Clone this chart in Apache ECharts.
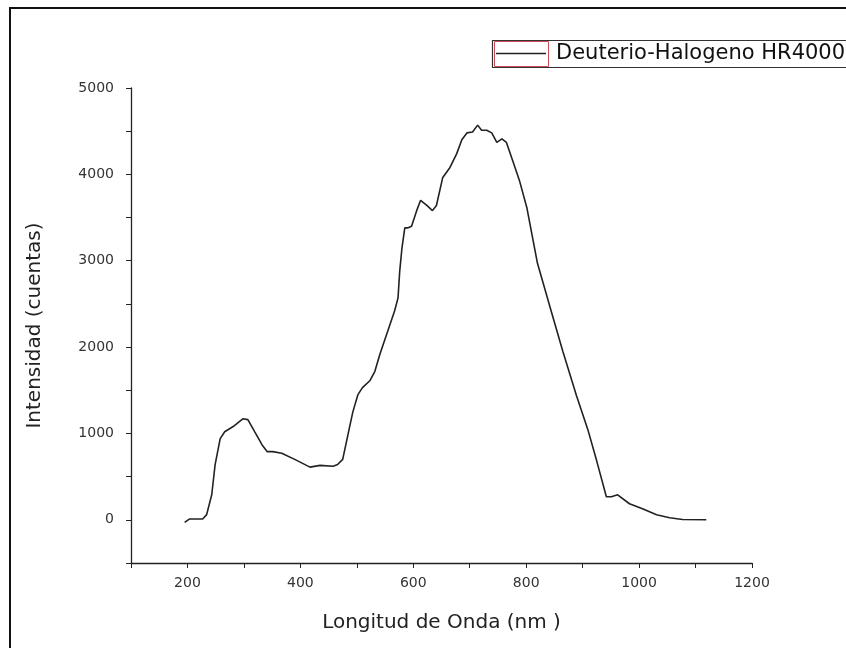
<!DOCTYPE html>
<html>
<head>
<meta charset="utf-8">
<script src="https://cdn.jsdelivr.net/npm/echarts@6/dist/echarts.min.js"></script>
<style>html,body{margin:0;padding:0;background:#fff}#c{width:846px;height:648px}</style>
</head>
<body>
<div id="c"></div>
<script>
const seriesName = 'Deuterio-Halogeno HR4000';
const wavelength = [195,204,227,234,243,249,258,266,281,298,307,319,332,341,351,367,390,417,435,458,466,475,488,493,502,510,523,532,541,555,567,573,576,580,585,590,597,606,613,624,634,641,652,665,677,686,695,705,714,721,730,739,748,757,765,776,788,801,820,845,865,889,909,925,942,951,962,983,1006,1031,1054,1077,1119];
const intensity = [-30,10,10,60,290,640,940,1020,1080,1170,1160,1020,870,790,790,770,700,610,630,620,640,700,1100,1250,1450,1530,1610,1720,1920,2190,2420,2570,2880,3150,3380,3380,3400,3580,3700,3640,3580,3640,3960,4080,4240,4400,4480,4490,4570,4510,4510,4480,4370,4410,4370,4160,3930,3620,2970,2400,1950,1440,1050,680,267,267,290,186,128,58,23,3,0];
const xTickLabels = [200,400,600,800,1000,1200];
const yTickLabels = [0,1000,2000,3000,4000,5000];

const FONT = '"DejaVu Sans", sans-serif';
const chart = echarts.init(document.getElementById('c'), null, {renderer: 'canvas'});
const data = wavelength.map((w, i) => [w, intensity[i]]);

chart.setOption({
  animation: false,
  backgroundColor: '#fff',
  textStyle: {fontFamily: FONT},
  grid: {left: 131, right: 94, top: 88, bottom: 85, containLabel: false},
  legend: {
    show: true,
    data: [seriesName],
    left: 496,
    top: 43,
    icon: 'rect',
    itemWidth: 50,
    itemHeight: 1.5,
    itemGap: 0,
    padding: 0,
    textStyle: {fontFamily: FONT, fontSize: 21, color: '#111', padding: [0, 0, 0, 5]},
    borderWidth: 0
  },
  graphic: [
    {type: 'rect', shape: {x: 10, y: 8, width: 900, height: 700}, style: {fill: 'none', stroke: '#111', lineWidth: 2}, silent: true},
    {type: 'rect', shape: {x: 492.5, y: 40.5, width: 400, height: 27}, style: {fill: 'none', stroke: '#333', lineWidth: 1.2}, silent: true},
    {type: 'rect', shape: {x: 494.5, y: 41.5, width: 54, height: 25}, style: {fill: 'none', stroke: '#d04a5a', lineWidth: 1}, silent: true}
  ],
  xAxis: {
    type: 'value',
    min: 100, max: 1200, interval: 100,
    name: 'Longitud de Onda (nm )',
    nameLocation: 'middle',
    nameGap: 50,
    nameTextStyle: {fontFamily: FONT, fontSize: 20, color: '#222'},
    axisLine: {show: true, onZero: false, lineStyle: {color: '#222', width: 1.3}},
    axisTick: {show: true, inside: false, length: 5, lineStyle: {color: '#222', width: 1}},
    splitLine: {show: false},
    axisLabel: {
      fontFamily: FONT, fontSize: 14, color: '#333', margin: 13,
      formatter: v => xTickLabels.includes(v) ? String(v) : ''
    }
  },
  yAxis: {
    type: 'value',
    min: -500, max: 5000, interval: 500,
    name: 'Intensidad (cuentas)',
    nameLocation: 'middle',
    nameGap: 86,
    nameRotate: 90,
    nameTextStyle: {fontFamily: FONT, fontSize: 20, color: '#222'},
    axisLine: {show: true, onZero: false, lineStyle: {color: '#222', width: 1.3}},
    axisTick: {show: true, inside: false, length: 5, lineStyle: {color: '#222', width: 1}},
    splitLine: {show: false},
    axisLabel: {
      fontFamily: FONT, fontSize: 14, color: '#333', margin: 17,
      formatter: v => yTickLabels.includes(v) ? String(v) : ''
    }
  },
  series: [{
    name: seriesName,
    type: 'line',
    data: data,
    symbol: 'none',
    showSymbol: false,
    smooth: false,
    lineStyle: {color: '#222', width: 1.6},
    itemStyle: {color: '#222'}
  }]
});
</script>
</body>
</html>
